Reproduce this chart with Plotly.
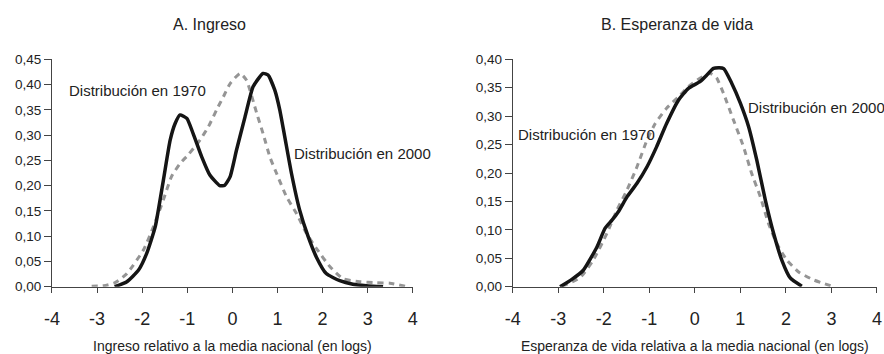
import plotly.graph_objects as go

# ---- Data ----
inc_2000_x = [-2.61, -2.34, -2.08, -1.90, -1.71, -1.53, -1.38, -1.27, -1.16, -1.01, -0.87, -0.68, -0.50,
              -0.28, -0.17, -0.05, 0.09, 0.28, 0.46, 0.68, 0.79, 0.94, 1.05, 1.16, 1.31, 1.49, 1.68,
              1.86, 2.08, 2.38, 2.67, 2.97, 3.34]
inc_2000_y = [0.0, 0.010, 0.033, 0.066, 0.119, 0.211, 0.290, 0.323, 0.340, 0.333, 0.303, 0.257, 0.221,
              0.200, 0.201, 0.218, 0.270, 0.336, 0.396, 0.422, 0.419, 0.389, 0.350, 0.297, 0.224, 0.152,
              0.099, 0.059, 0.026, 0.012, 0.005, 0.002, 0.0]

inc_1970_x = [-3.12, -2.85, -2.60, -2.34, -1.97, -1.75, -1.53, -1.35, -1.16, -0.98, -0.72, -0.53, -0.35,
              -0.20, -0.05, 0.17, 0.31, 0.54, 0.68, 0.83, 0.98, 1.20, 1.42, 1.64, 1.86, 2.16, 2.45,
              2.82, 3.19, 3.49, 3.89]
inc_1970_y = [0.001, 0.002, 0.008, 0.026, 0.073, 0.119, 0.172, 0.218, 0.244, 0.261, 0.290, 0.317, 0.350,
              0.376, 0.402, 0.422, 0.409, 0.343, 0.303, 0.257, 0.224, 0.178, 0.145, 0.106, 0.076, 0.040,
              0.016, 0.010, 0.008, 0.007, 0.0]

life_2000_x = [-2.96, -2.70, -2.45, -2.15, -1.97, -1.82, -1.68, -1.49, -1.27, -1.05, -0.84, -0.62, -0.36,
               -0.14, 0.12, 0.26, 0.41, 0.63, 0.81, 1.00, 1.18, 1.36, 1.55, 1.73, 1.91, 2.10, 2.35]
life_2000_y = [0.0, 0.013, 0.029, 0.070, 0.103, 0.117, 0.132, 0.158, 0.182, 0.211, 0.246, 0.287, 0.328,
               0.349, 0.361, 0.372, 0.384, 0.384, 0.358, 0.323, 0.282, 0.223, 0.152, 0.094, 0.047, 0.015, 0.001]

life_1970_x = [-2.92, -2.52, -2.23, -1.93, -1.71, -1.49, -1.27, -1.05, -0.87, -0.62, -0.36, -0.14, 0.12,
               0.34, 0.48, 0.63, 0.85, 1.07, 1.25, 1.44, 1.62, 1.80, 2.02, 2.28, 2.61, 3.05]
life_1970_y = [0.001, 0.016, 0.047, 0.094, 0.135, 0.170, 0.211, 0.258, 0.287, 0.314, 0.334, 0.352, 0.367,
               0.375, 0.367, 0.340, 0.293, 0.246, 0.199, 0.158, 0.111, 0.076, 0.047, 0.026, 0.012, 0.0]

x_tickvals = [-4, -3, -2, -1, 0, 1, 2, 3, 4]
x_ticktext = ["-4", "-3", "-2", "-1", "0", "1", "2", "3", "4"]
inc_y_ticks = [0, 0.05, 0.10, 0.15, 0.20, 0.25, 0.30, 0.35, 0.40, 0.45]
life_y_ticks = [0, 0.05, 0.10, 0.15, 0.20, 0.25, 0.30, 0.35, 0.40]

FONT = "Liberation Sans, Arial, Helvetica, sans-serif"
BLACK = "#151515"
GRAY = "#959595"
AXIS = "#444444"
TEXT = "#222222"

fig = go.Figure()
solid = dict(color=BLACK, width=3.5, shape="spline", smoothing=0.5)
dashed = dict(color=GRAY, width=3, dash="6px,5px", shape="spline", smoothing=0.5)

fig.add_trace(go.Scatter(x=inc_1970_x, y=inc_1970_y, mode="lines", line=dashed, xaxis="x", yaxis="y"))
fig.add_trace(go.Scatter(x=inc_2000_x, y=inc_2000_y, mode="lines", line=solid, xaxis="x", yaxis="y"))
fig.add_trace(go.Scatter(x=life_1970_x, y=life_1970_y, mode="lines", line=dashed, xaxis="x2", yaxis="y2"))
fig.add_trace(go.Scatter(x=life_2000_x, y=life_2000_y, mode="lines", line=solid, xaxis="x2", yaxis="y2"))

xcommon = dict(range=[-4, 4], tickvals=x_tickvals, ticktext=x_ticktext, showgrid=False, zeroline=False,
               showline=True, linecolor=AXIS, linewidth=1, ticks="outside", ticklen=5, tickcolor=AXIS,
               tickfont=dict(family=FONT, size=18, color=TEXT), ticklabelstandoff=11, automargin=False,
               title=dict(font=dict(family=FONT, size=14, color=TEXT), standoff=14))
ycommon = dict(showgrid=False, zeroline=False, showline=True, linecolor=AXIS, linewidth=1,
               ticks="outside", ticklen=7, tickcolor=AXIS, tickformat=".2f", automargin=False,
               tickfont=dict(family=FONT, size=13.5, color=TEXT))

ann_font = dict(family=FONT, size=15, color=TEXT)

fig.update_layout(
    width=884, height=354,
    margin=dict(l=0, r=0, t=0, b=0),
    paper_bgcolor="white", plot_bgcolor="white",
    showlegend=False,
    separators=",.",
    font=dict(family=FONT, size=13, color=TEXT),
    xaxis=dict(xcommon, domain=[0.0588, 0.467], anchor="y",
               title=dict(xcommon["title"], text="Ingreso relativo a la media nacional (en logs)")),
    yaxis=dict(ycommon, domain=[0.19, 0.8325], range=[0, 0.45], tickvals=inc_y_ticks, anchor="x"),
    xaxis2=dict(xcommon, domain=[0.580, 0.992], anchor="y2",
                title=dict(xcommon["title"], text="Esperanza de vida relativa a la media nacional (en logs)")),
    yaxis2=dict(ycommon, domain=[0.19, 0.8325], range=[0, 0.40], tickvals=life_y_ticks, anchor="x2"),
    annotations=[
        dict(text="A. Ingreso", xref="paper", yref="paper", x=209 / 884, y=1 - 24 / 354, showarrow=False,
             font=dict(family=FONT, size=16, color=TEXT), xanchor="center", yanchor="middle"),
        dict(text="B. Esperanza de vida", xref="paper", yref="paper", x=677 / 884, y=1 - 24 / 354,
             showarrow=False, font=dict(family=FONT, size=16, color=TEXT), xanchor="center", yanchor="middle"),
        dict(text="Distribución en 1970", xref="x", yref="y", x=-3.67, y=0.389, showarrow=False,
             xanchor="left", yanchor="middle", font=ann_font),
        dict(text="Distribución en 2000", xref="x", yref="y", x=1.32, y=0.264, showarrow=False,
             xanchor="left", yanchor="middle", font=ann_font),
        dict(text="Distribución en 2000", xref="x2", yref="y2", x=1.12, y=0.316, showarrow=False,
             xanchor="left", yanchor="middle", font=ann_font),
        dict(text="Distribución en 1970", xref="x2", yref="y2", x=-3.93, y=0.267, showarrow=False,
             xanchor="left", yanchor="middle", font=ann_font),
    ],
)

fig.write_html("out.html")
